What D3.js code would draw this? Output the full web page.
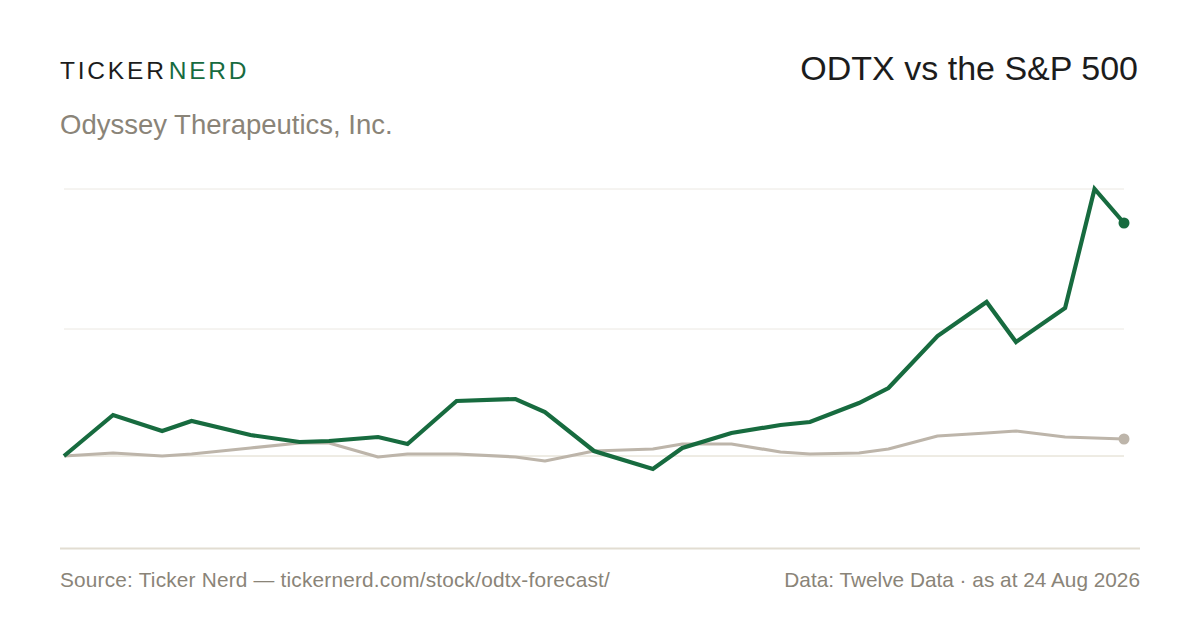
<!DOCTYPE html>
<html>
<head>
<meta charset="utf-8">
<script src="https://d3js.org/d3.v7.min.js"></script>
<style>
  body { margin: 0; background: #fff; }
  svg { display: block; font-family: "Liberation Sans", Arial, sans-serif; }
</style>
</head>
<body>
<script>
// weekly closes, % change from first date
var dates = ["2024-07-29", "2024-09-02", "2024-10-07", "2024-10-28", "2024-12-09",
  "2025-01-13", "2025-02-03", "2025-03-10", "2025-03-31", "2025-05-05",
  "2025-06-16", "2025-07-07", "2025-08-11", "2025-09-22", "2025-10-13",
  "2025-11-17", "2025-12-22", "2026-01-12", "2026-02-16", "2026-03-09",
  "2026-04-13", "2026-05-18", "2026-06-08", "2026-07-13", "2026-08-03",
  "2026-08-24"];
var odtx = [0, 41, 25, 35, 21, 14, 15, 19, 12, 55, 57, 44, 5, -13, 8, 23, 31, 34,
  53, 68, 120, 154, 114, 148, 267, 233];
var spx = [0, 3, 0, 2, 8, 13, 13, -1, 2, 2, -1, -5, 5, 7, 12, 12, 4, 2, 3, 7,
  20, 23, 25, 19, 18, 17];

var W = 1200, H = 630;
var green = "#176b3f", grey = "#bdb5aa", muted = "#8a8478";

var svg = d3.select("body").append("svg")
    .attr("width", W)
    .attr("height", H);

var parse = d3.timeParse("%Y-%m-%d");
var days = dates.map(parse);

var x = d3.scaleTime()
    .domain(d3.extent(days))
    .range([64, 1124]);

var all = odtx.concat(spx);
var lo = d3.min(all), hi = d3.max(all);
var y = d3.scaleLinear()
    .domain([lo, hi])
    .range([469, 189]);

// header
var logo = svg.append("text")
    .attr("x", 60)
    .attr("y", 79)
    .attr("font-size", 24.5)
    .attr("letter-spacing", 2.8);
logo.append("tspan").attr("fill", "#1c1c1c").text("TICKER");
logo.append("tspan").attr("fill", green).attr("dx", 2).text("NERD");

svg.append("text")
    .attr("x", 1138)
    .attr("y", 80)
    .attr("text-anchor", "end")
    .attr("font-size", 34)
    .attr("fill", "#1c1c1c")
    .text("ODTX vs the S\u0026P 500");

svg.append("text")
    .attr("x", 60)
    .attr("y", 134)
    .attr("font-size", 27.5)
    .attr("fill", muted)
    .text("Odyssey Therapeutics, Inc.");

// grid: top of range and the middle
svg.append("g")
  .selectAll("line")
  .data([hi, (lo + hi) / 2])
  .join("line")
    .attr("x1", 64)
    .attr("x2", 1124)
    .attr("y1", d => y(d))
    .attr("y2", d => y(d))
    .attr("stroke", "#ebe8e2")
    .attr("stroke-width", 1);

svg.append("line")
    .attr("x1", 64)
    .attr("x2", 1124)
    .attr("y1", y(0))
    .attr("y2", y(0))
    .attr("stroke", "#ddd8c8")
    .attr("stroke-width", 1);

var line = d3.line()
    .x((d, i) => x(days[i]))
    .y(d => y(d));

svg.append("path")
    .datum(spx)
    .attr("fill", "none")
    .attr("stroke", grey)
    .attr("stroke-width", 3.2)
    .attr("stroke-linejoin", "round")
    .attr("d", line);

svg.append("path")
    .datum(odtx)
    .attr("fill", "none")
    .attr("stroke", green)
    .attr("stroke-width", 4.2)
    .attr("stroke-linejoin", "miter")
    .attr("d", line);

var last = days.length - 1;
svg.append("circle")
    .attr("cx", x(days[last]))
    .attr("cy", y(spx[last]))
    .attr("r", 5.5)
    .attr("fill", grey);
svg.append("circle")
    .attr("cx", x(days[last]))
    .attr("cy", y(odtx[last]))
    .attr("r", 5.5)
    .attr("fill", green);

// footer
svg.append("line")
    .attr("x1", 60)
    .attr("x2", 1140)
    .attr("y1", 548.5)
    .attr("y2", 548.5)
    .attr("stroke", "#e2ddd2")
    .attr("stroke-width", 2);

svg.append("text")
    .attr("x", 60)
    .attr("y", 587)
    .attr("font-size", 20.8)
    .attr("letter-spacing", 0.2)
    .attr("fill", muted)
    .text("Source: Ticker Nerd \u2014 tickernerd.com/stock/odtx-forecast/");

svg.append("text")
    .attr("x", 1140)
    .attr("y", 587)
    .attr("text-anchor", "end")
    .attr("font-size", 20.8)
    .attr("fill", muted)
    .text("Data: Twelve Data \u00b7 as at 24 Aug 2026");
</script>
</body>
</html>
